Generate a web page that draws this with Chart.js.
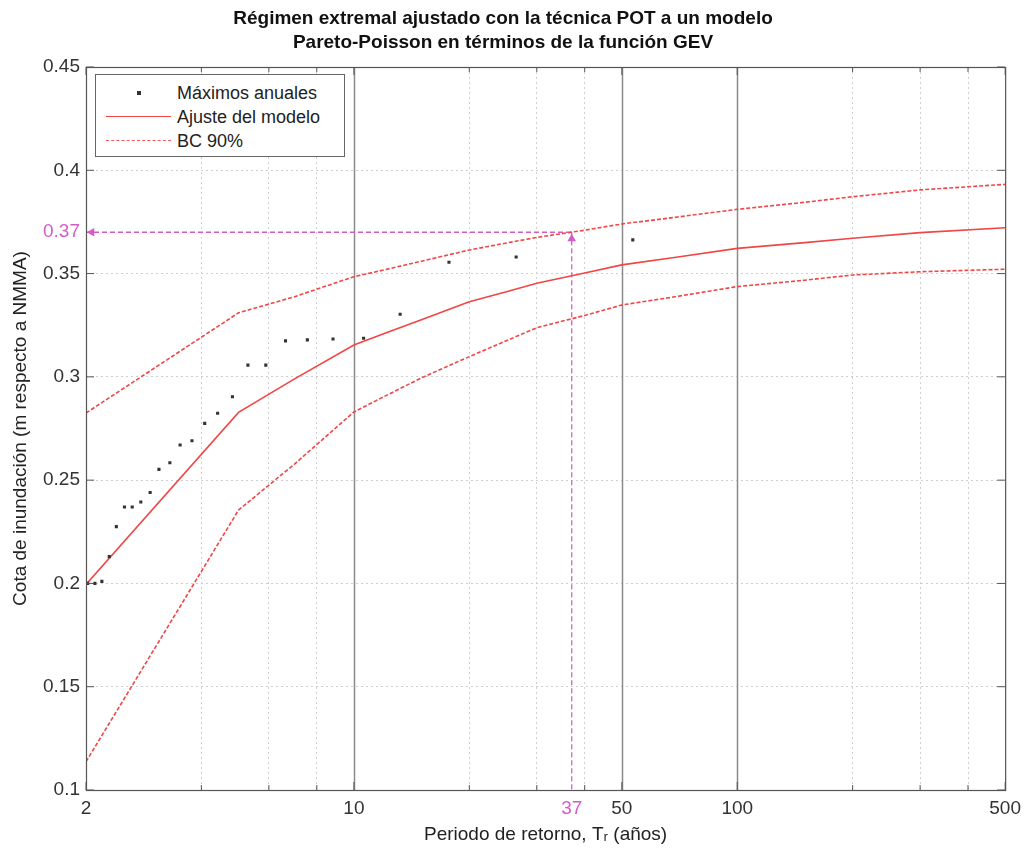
<!DOCTYPE html>
<html>
<head>
<meta charset="utf-8">
<script src="https://cdn.jsdelivr.net/npm/chart.js@4.4.0/dist/chart.umd.min.js"></script>
<style>
  html, body { margin: 0; padding: 0; background: #fff; }
  #wrap { position: relative; width: 1028px; height: 850px; }
  #legend {
    position: absolute; left: 95px; top: 74px; width: 250px; height: 83px;
    box-sizing: border-box; border: 1px solid #666; background: #fff;
    font-family: "Liberation Sans", Arial, sans-serif; font-size: 18px; color: #222;
  }
  .row { position: absolute; left: 0; width: 100%; height: 24px; }
  .row span.txt { position: absolute; left: 81px; top: 1px; line-height: 22px; white-space: nowrap; }
  .sample { position: absolute; left: 10px; width: 65px; top: 11px; height: 0; }
  .dot { position: absolute; left: 41px; top: 10px; width: 4px; height: 4px; background: #333; }
</style>
</head>
<body>
<div id="wrap">
  <canvas id="chart" width="1028" height="850"></canvas>
  <div id="legend">
    <div class="row" style="top:6px"><div class="dot"></div><span class="txt">Máximos anuales</span></div>
    <div class="row" style="top:30px"><div class="sample" style="border-top:1.5px solid #f04646"></div><span class="txt">Ajuste del modelo</span></div>
    <div class="row" style="top:54px"><div class="sample" style="border-top:1.5px dashed #f05a5a"></div><span class="txt">BC 90%</span></div>
  </div>
</div>
<script>
// ---- datos ----
// maximos anuales (periodo de retorno, cota)
const annualT   = [2.02, 2.11, 2.20, 2.30, 2.40, 2.52, 2.64, 2.78, 2.94, 3.10, 3.31, 3.52, 3.78,
                   4.08, 4.41, 4.82, 5.29, 5.89, 6.63, 7.56, 8.82, 10.6, 13.2, 17.7, 26.5, 53.4];
const annualMax = [0.200, 0.200, 0.201, 0.213, 0.2275, 0.237, 0.237, 0.2394, 0.244, 0.2552, 0.2584, 0.267, 0.2691,
                   0.2775, 0.2824, 0.2904, 0.3057, 0.3057, 0.3174, 0.3179, 0.3183, 0.3187, 0.3303, 0.3555, 0.358, 0.3663];

// modelo ajustado y bandas de confianza
const modelT     = [2, 5, 7, 10, 12, 15, 20, 25, 30, 40, 50, 70, 100, 150, 200, 300, 500];
const fitValues  = [0.1995, 0.2828, 0.299, 0.3154, 0.3210, 0.3277, 0.3364, 0.3412, 0.3453, 0.3503, 0.3542, 0.358, 0.3622, 0.3650, 0.3671, 0.3698, 0.3722];
const upperBand  = [0.2825, 0.331, 0.3388, 0.3485, 0.3518, 0.356, 0.3614, 0.3648, 0.3675, 0.3710, 0.374, 0.3774, 0.3811, 0.3845, 0.3872, 0.3905, 0.3932];
const lowerBand  = [0.1137, 0.2355, 0.2578, 0.283, 0.2905, 0.2995, 0.3098, 0.3175, 0.3238, 0.3297, 0.3348, 0.339, 0.3437, 0.3468, 0.3493, 0.3509, 0.3521];

// lectura marcada en magenta
const readT = 37;
const readLevel = 0.37;

// ejes
const xTicks  = [2, 4, 6, 8, 10, 20, 30, 37, 40, 50, 100, 200, 300, 400, 500];
const xLabels = [2, 10, 37, 50, 100, 500];
const xStrong = [10, 50, 100];
const yTicks  = [0.1, 0.15, 0.2, 0.25, 0.3, 0.35, 0.37, 0.4, 0.45];

const FONT = '"Liberation Sans", Arial, sans-serif';
const RED = '#f04646';
const MAG = '#d45cc9';

const pts = (xs, ys) => xs.map((x, i) => ({x: x, y: ys[i]}));

// lineas de la rejilla fuertes y marco tipo matlab
const framePlugin = {
  id: 'frame',
  beforeDatasetsDraw(chart) {
    const {ctx, chartArea: a, scales: {x}} = chart;
    ctx.save();
    ctx.strokeStyle = '#8a8a8a';
    ctx.lineWidth = 1.5;
    xStrong.forEach(v => {
      const px = Math.round(x.getPixelForValue(v)) + 0.5;
      ctx.beginPath(); ctx.moveTo(px, a.top); ctx.lineTo(px, a.bottom); ctx.stroke();
    });
    ctx.restore();
  },
  afterDatasetsDraw(chart) {
    const {ctx, chartArea: a, scales: {x, y}} = chart;
    ctx.save();
    ctx.strokeStyle = '#555';
    ctx.lineWidth = 1.2;
    ctx.strokeRect(a.left + 0.5, a.top + 0.5, a.right - a.left, a.bottom - a.top);
    ctx.lineWidth = 1;
    xTicks.forEach(v => {
      if (v === readT) return;
      const px = x.getPixelForValue(v);
      const len = xLabels.includes(v) ? 8 : 5;
      ctx.beginPath();
      ctx.moveTo(px, a.bottom); ctx.lineTo(px, a.bottom - len);
      ctx.moveTo(px, a.top); ctx.lineTo(px, a.top + len);
      ctx.stroke();
    });
    yTicks.forEach(v => {
      if (v === readLevel) return;
      const py = y.getPixelForValue(v);
      ctx.beginPath();
      ctx.moveTo(a.left, py); ctx.lineTo(a.left + 8, py);
      ctx.moveTo(a.right, py); ctx.lineTo(a.right - 8, py);
      ctx.stroke();
    });
    ctx.restore();
  }
};

window.addEventListener('DOMContentLoaded', () => {
  new Chart(document.getElementById('chart'), {
    type: 'scatter',
    data: {
      datasets: [
        { label: 'Máximos anuales', data: pts(annualT, annualMax), pointStyle: 'rect',
          pointRadius: 2.2, backgroundColor: '#333', borderWidth: 0 },
        { label: 'Ajuste del modelo', data: pts(modelT, fitValues), showLine: true, tension: 0,
          borderColor: RED, borderWidth: 1.6, pointRadius: 0 },
        { label: 'BC 90%', data: pts(modelT, upperBand), showLine: true, tension: 0,
          borderColor: RED, borderWidth: 1.6, borderDash: [4, 2], pointRadius: 0 },
        { label: 'BC 90% inf', data: pts(modelT, lowerBand), showLine: true, tension: 0,
          borderColor: RED, borderWidth: 1.6, borderDash: [4, 2], pointRadius: 0 },
        { label: 'lectura h', data: [{x: 2, y: readLevel}, {x: readT, y: readLevel}], showLine: true,
          borderColor: MAG, borderWidth: 1.3, borderDash: [5, 3], pointRadius: 0 },
        { label: 'lectura v', data: [{x: readT, y: readLevel}, {x: readT, y: 0.1}], showLine: true,
          borderColor: MAG, borderWidth: 1.3, borderDash: [5, 3], pointRadius: 0 },
        { label: 'flechas', data: [{x: 2.07, y: readLevel}, {x: readT, y: 0.3668}],
          pointStyle: 'triangle', pointRotation: [270, 0], pointRadius: 5,
          backgroundColor: MAG, borderColor: MAG, borderWidth: 0 }
      ]
    },
    options: {
      responsive: false,
      animation: false,
      layout: { padding: { left: 0, right: 22, top: 0, bottom: 0 } },
      plugins: {
        legend: { display: false },
        tooltip: { enabled: false },
        title: {
          display: true,
          text: ['Régimen extremal ajustado con la técnica POT a un modelo',
                 'Pareto-Poisson en términos de la función GEV'],
          color: '#111',
          font: { family: FONT, size: 19, weight: 'bold', lineHeight: 1.3 },
          padding: { top: 6, bottom: 11.6 }
        }
      },
      scales: {
        x: {
          type: 'logarithmic', min: 2, max: 500,
          afterBuildTicks: s => { s.ticks = xTicks.map(v => ({value: v})); },
          afterFit: s => { s.height = 60; },
          border: { display: false, dash: [2, 3] },
          grid: {
            drawTicks: false,
            color: c => (c.tick && !xLabels.includes(c.tick.value) && !xStrong.includes(c.tick.value)) ? '#cfcfcf' : 'rgba(0,0,0,0)'
          },
          ticks: {
            autoSkip: false, maxRotation: 0, padding: 7,
            font: { family: FONT, size: 19 },
            color: c => (c.tick && c.tick.value === readT) ? MAG : '#333',
            callback: v => xLabels.includes(v) ? String(v) : ''
          },
          title: { display: true, text: 'Periodo de retorno, Tᵣ (años)', color: '#222',
                   font: { family: FONT, size: 19 }, padding: { top: 0, bottom: 4 } }
        },
        y: {
          min: 0.1, max: 0.45,
          afterBuildTicks: s => { s.ticks = yTicks.map(v => ({value: v})); },
          afterFit: s => { s.width = 86; },
          border: { display: false, dash: [2, 3] },
          grid: {
            drawTicks: false,
            color: c => (c.tick && c.tick.value > 0.1 && c.tick.value < 0.45 && c.tick.value !== readLevel) ? '#cfcfcf' : 'rgba(0,0,0,0)'
          },
          ticks: {
            padding: 6,
            font: { family: FONT, size: 19 },
            color: c => (c.tick && c.tick.value === readLevel) ? MAG : '#333',
            callback: v => String(v)
          },
          title: { display: true, text: 'Cota de inundación (m respecto a NMMA)', color: '#222',
                   font: { family: FONT, size: 19 }, padding: { top: 9, bottom: 0 } }
        }
      }
    },
    plugins: [framePlugin]
  });
});
</script>
</body>
</html>
